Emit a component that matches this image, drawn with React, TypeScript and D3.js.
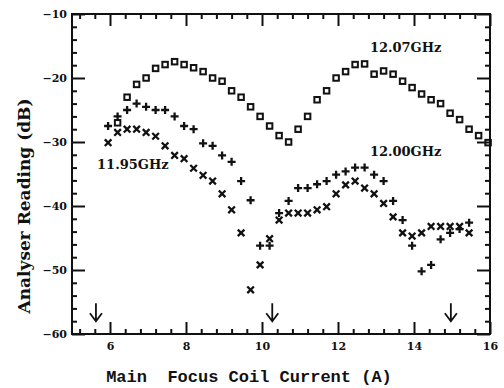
import React, { useEffect, useRef } from "react";
import * as d3 from "d3";

// 12.07 GHz (squares)
const currentSq = [
  6.2, 6.45, 6.7, 6.95, 7.2, 7.45, 7.7, 7.95, 8.2, 8.45, 8.7, 8.95, 9.2, 9.45,
  9.7, 9.95, 10.2, 10.45, 10.7, 10.95, 11.2, 11.45, 11.7, 11.95, 12.2, 12.45,
  12.7, 12.95, 13.2, 13.45, 13.7, 13.95, 14.2, 14.45, 14.7, 14.95, 15.2, 15.45,
  15.7, 15.95,
];
const readingSq = [
  -27.0, -23.0, -21.0, -20.0, -18.5, -17.9, -17.45, -17.9, -18.4, -19.0, -20.0,
  -20.5, -22.0, -23.0, -24.5, -26.0, -27.5, -29.0, -30.0, -28.0, -26.0, -23.4,
  -22.0, -20.0, -19.0, -17.9, -17.8, -19.4, -18.9, -19.4, -20.5, -21.5, -22.5,
  -23.4, -24.0, -25.5, -26.5, -28.0, -29.0, -30.1,
];

// shared currents for the + and x runs
const currentPX = [
  5.95, 6.2, 6.45, 6.7, 6.95, 7.2, 7.45, 7.7, 7.95, 8.2, 8.45, 8.7, 8.95, 9.2,
  9.45, 9.7, 9.95, 10.2, 10.45, 10.7, 10.95, 11.2, 11.45, 11.7, 11.95, 12.2,
  12.45, 12.7, 12.95, 13.2, 13.45, 13.7, 13.95, 14.2, 14.45, 14.7, 14.95, 15.2,
  15.45,
];
// 12.00 GHz (+)
const readingPlus = [
  -27.5, -26.0, -25.0, -24.0, -24.5, -25.0, -25.0, -26.0, -27.5, -28.0, -30.2,
  -30.6, -32.1, -33.1, -36.1, -39.1, -46.2, -46.2, -41.1, -39.2, -37.2, -37.2,
  -36.6, -36.1, -35.1, -34.6, -34.0, -34.0, -35.1, -36.1, -39.2, -42.2, -46.2,
  -50.2, -49.2, -45.2, -44.2, -43.6, -42.6,
];
// 11.95 GHz (x)
const readingCross = [
  -30.1, -28.5, -28.0, -28.0, -28.5, -29.1, -30.6, -32.1, -32.6, -34.1, -35.2,
  -36.1, -38.1, -40.6, -44.2, -53.1, -49.2, -45.1, -42.2, -41.1, -41.1, -41.1,
  -40.6, -40.1, -38.1, -36.7, -36.1, -37.2, -38.1, -39.6, -41.7, -44.2, -44.7,
  -44.2, -43.2, -43.2, -43.2, -43.2, -44.2,
];

const xMajor = [6, 8, 10, 12, 14, 16];
const xMinor = [5.2, 5.6, 6.4, 6.8, 7.2, 7.6, 8.4, 8.8, 9.2, 9.6, 10.4, 10.8, 11.2, 11.6, 12.4, 12.8, 13.2, 13.6, 14.4, 14.8, 15.2, 15.6];
const yMajor = [-60, -50, -40, -30, -20, -10];
const yMinor = [-58, -56, -54, -52, -48, -46, -44, -42, -38, -36, -34, -32, -28, -26, -24, -22, -18, -16, -14, -12];

const arrowsAt = [5.63, 10.27, 14.97];
const labels = [
  { text: "12.07GHz", x: 12.84, y: -15.9 },
  { text: "12.00GHz", x: 12.84, y: -32.2 },
  { text: "11.95GHz", x: 5.66, y: -34.2 },
];

const W = 504;
const H = 388;

export default function App() {
  const svgRef = useRef<SVGSVGElement>(null);

  useEffect(() => {
    const svg = d3.select(svgRef.current);
    svg.selectAll("*").remove();

    const margin = { top: 14, right: 14, bottom: 54, left: 72 };
    const x = d3.scaleLinear().domain([5, 16]).range([margin.left, W - margin.right]);
    const y = d3.scaleLinear().domain([-60, -10]).range([H - margin.bottom, margin.top]);
    const font = "'DejaVu Serif', serif";

    // ticks (all pointing inward)
    const addAxis = (axis: any, transform: string, labelled: boolean) => {
      const g = svg.append("g").attr("transform", transform).call(axis);
      g.select(".domain").remove();
      g.selectAll("line").attr("stroke", "#111").attr("stroke-width", 2);
      g.selectAll("text")
        .style("font-family", font)
        .style("font-weight", "bold")
        .style("font-size", "11px")
        .attr("fill", "#111");
      if (!labelled) g.selectAll("text").remove();
      return g;
    };

    const bottom = `translate(0,${y(-60)})`;
    const top = `translate(0,${y(-10)})`;
    const left = `translate(${x(5)},0)`;
    const right = `translate(${x(16)},0)`;

    addAxis(d3.axisBottom(x).tickValues(xMajor).tickSize(-12).tickPadding(8).tickFormat(d3.format("d")), bottom, true);
    addAxis(d3.axisBottom(x).tickValues(xMinor).tickSize(-5), bottom, false);
    addAxis(d3.axisTop(x).tickValues(xMajor).tickSize(-12), top, false);
    addAxis(d3.axisTop(x).tickValues(xMinor).tickSize(-5), top, false);
    addAxis(d3.axisLeft(y).tickValues(yMajor).tickSize(-13).tickPadding(5).tickFormat(d3.format("d")), left, true);
    addAxis(d3.axisLeft(y).tickValues(yMinor).tickSize(-5), left, false);
    addAxis(d3.axisRight(y).tickValues(yMajor).tickSize(-13), right, false);
    addAxis(d3.axisRight(y).tickValues(yMinor).tickSize(-5), right, false);

    // frame
    svg
      .append("rect")
      .attr("x", x(5))
      .attr("y", y(-10))
      .attr("width", x(16) - x(5))
      .attr("height", y(-60) - y(-10))
      .attr("fill", "none")
      .attr("stroke", "#111")
      .attr("stroke-width", 2);

    // squares
    const sq = 5.5;
    svg
      .append("g")
      .selectAll("rect")
      .data(currentSq.map((c, i) => [c, readingSq[i]]))
      .enter()
      .append("rect")
      .attr("x", (d) => x(d[0]) - sq / 2)
      .attr("y", (d) => y(d[1]) - sq / 2)
      .attr("width", sq)
      .attr("height", sq)
      .attr("fill", "none")
      .attr("stroke", "#111")
      .attr("stroke-width", 2);

    // plus
    const p = 4;
    svg
      .append("g")
      .selectAll("path")
      .data(currentPX.map((c, i) => [c, readingPlus[i]]))
      .enter()
      .append("path")
      .attr("d", (d) => {
        const cx = x(d[0]);
        const cy = y(d[1]);
        return `M${cx - p},${cy}H${cx + p}M${cx},${cy - p}V${cy + p}`;
      })
      .attr("stroke", "#111")
      .attr("stroke-width", 2.3);

    // crosses
    const c = 3.3;
    svg
      .append("g")
      .selectAll("path")
      .data(currentPX.map((cur, i) => [cur, readingCross[i]]))
      .enter()
      .append("path")
      .attr("d", (d) => {
        const cx = x(d[0]);
        const cy = y(d[1]);
        return `M${cx - c},${cy - c}L${cx + c},${cy + c}M${cx - c},${cy + c}L${cx + c},${cy - c}`;
      })
      .attr("stroke", "#111")
      .attr("stroke-width", 2.3);

    // arrows near the bottom
    const ag = svg.append("g").attr("stroke", "#111").attr("stroke-width", 1.8).attr("fill", "none");
    arrowsAt.forEach((a) => {
      const ax = x(a);
      const y0 = y(-55.2);
      const y1 = y(-58);
      ag.append("path").attr("d", `M${ax},${y0}V${y1}M${ax - 6},${y1 - 8}L${ax},${y1}L${ax + 6},${y1 - 8}`);
    });

    // frequency labels
    svg
      .append("g")
      .selectAll("text")
      .data(labels)
      .enter()
      .append("text")
      .attr("x", (d) => x(d.x))
      .attr("y", (d) => y(d.y))
      .style("font-family", font)
      .style("font-weight", "bold")
      .style("font-size", "13px")
      .attr("fill", "#111")
      .text((d) => d.text);

    // axis titles
    svg
      .append("text")
      .attr("x", 249)
      .attr("y", 382)
      .attr("text-anchor", "middle")
      .style("font-family", "'Liberation Mono', monospace")
      .style("font-weight", "bold")
      .style("font-size", "17px")
      .attr("fill", "#111")
      .attr("xml:space", "preserve")
      .text("Main  Focus Coil Current (A)");

    svg
      .append("text")
      .attr("transform", `translate(30,${y(-40)}) rotate(-90)`)
      .attr("text-anchor", "middle")
      .style("font-family", font)
      .style("font-weight", "bold")
      .style("font-size", "17px")
      .attr("fill", "#111")
      .text("Analyser Reading (dB)");
  }, []);

  return (
    <svg
      ref={svgRef}
      width={W}
      height={H}
      style={{ position: "absolute", left: 0, top: 0, background: "#fff" }}
    ></svg>
  );
}
